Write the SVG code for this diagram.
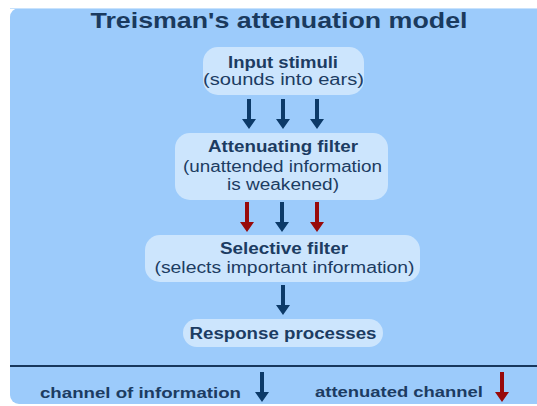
<svg xmlns="http://www.w3.org/2000/svg" xmlns:xlink="http://www.w3.org/1999/xlink" width="537" height="406" viewBox="0 0 537 406">
  <style>
    .panel { fill: #9ccbfb; }
    .node { fill: #cce5fd; }
    .title { font-family: "Liberation Sans", Arial, sans-serif; font-weight: bold; font-size: 22px; fill: #1a3a5e; }
    .head { font-family: "Liberation Sans", Arial, sans-serif; font-weight: bold; font-size: 16px; fill: #1c3c62; }
    .sub { font-family: "Liberation Sans", Arial, sans-serif; font-size: 16px; fill: #1c3c62; }
    .legend { font-family: "Liberation Sans", Arial, sans-serif; font-weight: bold; font-size: 15px; fill: #1c3c62; }
    .navy { fill: #0c3a68; }
    .red { fill: #980a0a; }
    .rule { stroke: #17375c; stroke-width: 2; }
  </style>
  <defs>
    <!-- down arrow, 30px long, tip at y=30 -->
    <path id="arrow" d="M-2,0 H2 V20 H7 L0,30 L-7,20 H-2 Z"/>
  </defs>

  <rect x="0" y="0" width="537" height="406" fill="#ffffff"/>
  <rect class="panel" x="10" y="8" width="545" height="396" rx="9" ry="9"/>
  <line x1="10" y1="8.5" x2="537" y2="8.5" stroke="#c8e2fc" stroke-width="1"/>

  <text class="title" x="279" y="28" text-anchor="middle" textLength="377" lengthAdjust="spacingAndGlyphs">Treisman's attenuation model</text>

  <g id="input-stimuli">
    <rect class="node" x="203" y="47" width="161" height="48" rx="15"/>
    <text class="head" x="283" y="68" text-anchor="middle" textLength="110" lengthAdjust="spacingAndGlyphs">Input stimuli</text>
    <text class="sub" x="283.5" y="85" text-anchor="middle" textLength="161" lengthAdjust="spacingAndGlyphs">(sounds into ears)</text>
  </g>

  <g id="attenuating-filter">
    <rect class="node" x="175" y="133" width="213" height="67" rx="15"/>
    <text class="head" x="283" y="152" text-anchor="middle" textLength="150" lengthAdjust="spacingAndGlyphs">Attenuating filter</text>
    <text class="sub" x="282.5" y="171.5" text-anchor="middle" textLength="199" lengthAdjust="spacingAndGlyphs">(unattended information</text>
    <text class="sub" x="283" y="190" text-anchor="middle" textLength="112" lengthAdjust="spacingAndGlyphs">is weakened)</text>
  </g>

  <g id="selective-filter">
    <rect class="node" x="145" y="235" width="275" height="47" rx="15"/>
    <text class="head" x="284" y="254" text-anchor="middle" textLength="128" lengthAdjust="spacingAndGlyphs">Selective filter</text>
    <text class="sub" x="284.5" y="273" text-anchor="middle" textLength="260" lengthAdjust="spacingAndGlyphs">(selects important information)</text>
  </g>

  <g id="response-processes">
    <rect class="node" x="183" y="319" width="200" height="28" rx="14"/>
    <text class="head" x="283" y="339" text-anchor="middle" textLength="187" lengthAdjust="spacingAndGlyphs">Response processes</text>
  </g>

  <g id="connectors">
    <use xlink:href="#arrow" class="navy" transform="translate(249,99)"/>
    <use xlink:href="#arrow" class="navy" transform="translate(283,99)"/>
    <use xlink:href="#arrow" class="navy" transform="translate(317,99)"/>
    <use xlink:href="#arrow" class="red" transform="translate(247,202)"/>
    <use xlink:href="#arrow" class="navy" transform="translate(282,202)"/>
    <use xlink:href="#arrow" class="red" transform="translate(317,202)"/>
    <use xlink:href="#arrow" class="navy" transform="translate(283,285)"/>
  </g>

  <g id="legend">
    <line class="rule" x1="10" y1="366" x2="537" y2="366"/>
    <text class="legend" x="40" y="398" textLength="201" lengthAdjust="spacingAndGlyphs">channel of information</text>
    <use xlink:href="#arrow" class="navy" transform="translate(262,372)"/>
    <text class="legend" x="315" y="397" textLength="168" lengthAdjust="spacingAndGlyphs">attenuated channel</text>
    <use xlink:href="#arrow" class="red" transform="translate(502,372)"/>
  </g>
</svg>
